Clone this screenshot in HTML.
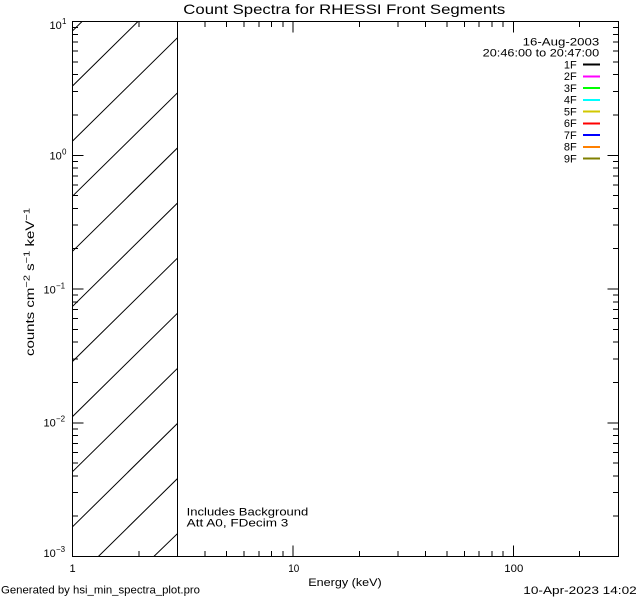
<!DOCTYPE html>
<html><head><meta charset="utf-8"><style>
html,body{margin:0;padding:0;background:#fff;width:640px;height:600px;overflow:hidden;}
svg{display:block;overflow:hidden;}
text{font-family:"Liberation Sans",sans-serif;fill:#000;}
</style></head><body>
<svg width="640" height="600" viewBox="0 0 640 600" xmlns="http://www.w3.org/2000/svg">
<rect x="0" y="0" width="640" height="600" fill="#fff"/>
<defs><clipPath id="hc"><rect x="72.5" y="21.5" width="105" height="535"/></clipPath></defs>
<!-- hatch -->
<g clip-path="url(#hc)" stroke="#000" stroke-width="1" fill="none">
<line x1="72.5" y1="30.9" x2="102" y2="1.9"/>
<line x1="72.5" y1="86.0" x2="155" y2="4.7"/>
<line x1="72.5" y1="141.1" x2="177.5" y2="37.7"/>
<line x1="72.5" y1="196.2" x2="177.5" y2="92.8"/>
<line x1="72.5" y1="251.3" x2="177.5" y2="147.9"/>
<line x1="72.5" y1="306.4" x2="177.5" y2="203.0"/>
<line x1="72.5" y1="361.5" x2="177.5" y2="258.1"/>
<line x1="72.5" y1="416.6" x2="177.5" y2="313.2"/>
<line x1="72.5" y1="471.7" x2="177.5" y2="368.3"/>
<line x1="72.5" y1="526.8" x2="177.5" y2="423.4"/>
<line x1="90" y1="564.7" x2="177.5" y2="478.5"/>
<line x1="145" y1="565" x2="177.5" y2="533.6"/>
</g>
<g stroke="#000" stroke-width="1" fill="none" shape-rendering="crispEdges">
<line x1="177.5" y1="21.5" x2="177.5" y2="556.5"/>
<rect x="72.5" y="21.5" width="546" height="535"/>
<!-- bottom ticks -->
<path d="M72.5 556.5V545.5 M292.9 556.5V545.5 M513.3 556.5V545.5
M138.85 556.5V551 M177.66 556.5V551 M205.19 556.5V551 M226.55 556.5V551 M244 556.5V551 M258.76 556.5V551 M271.54 556.5V551 M282.81 556.5V551
M359.25 556.5V551 M398.06 556.5V551 M425.59 556.5V551 M446.95 556.5V551 M464.4 556.5V551 M479.16 556.5V551 M491.94 556.5V551 M503.21 556.5V551
M579.65 556.5V551"/>
<!-- top ticks -->
<path d="M72.5 21.5V32.5 M292.9 21.5V32.5 M513.3 21.5V32.5
M138.85 21.5V27 M177.66 21.5V27 M205.19 21.5V27 M226.55 21.5V27 M244 21.5V27 M258.76 21.5V27 M271.54 21.5V27 M282.81 21.5V27
M359.25 21.5V27 M398.06 21.5V27 M425.59 21.5V27 M446.95 21.5V27 M464.4 21.5V27 M479.16 21.5V27 M491.94 21.5V27 M503.21 21.5V27
M579.65 21.5V27"/>
<!-- left ticks -->
<path d="M72.5 21.5H83.5 M72.5 155.25H83.5 M72.5 289H83.5 M72.5 422.75H83.5 M72.5 556.5H83.5
M72.5 114.99H78 M72.5 91.44H78 M72.5 74.72H78 M72.5 61.76H78 M72.5 51.17H78 M72.5 42.22H78 M72.5 34.46H78 M72.5 27.62H78
M72.5 248.74H78 M72.5 225.19H78 M72.5 208.47H78 M72.5 195.51H78 M72.5 184.92H78 M72.5 175.97H78 M72.5 168.21H78 M72.5 161.37H78
M72.5 382.49H78 M72.5 358.94H78 M72.5 342.22H78 M72.5 329.26H78 M72.5 318.67H78 M72.5 309.72H78 M72.5 301.96H78 M72.5 295.12H78
M72.5 516.24H78 M72.5 492.69H78 M72.5 475.97H78 M72.5 463.01H78 M72.5 452.42H78 M72.5 443.47H78 M72.5 435.71H78 M72.5 428.87H78"/>
<!-- right ticks -->
<path d="M618.5 21.5H607.5 M618.5 155.25H607.5 M618.5 289H607.5 M618.5 422.75H607.5 M618.5 556.5H607.5
M618.5 114.99H613 M618.5 91.44H613 M618.5 74.72H613 M618.5 61.76H613 M618.5 51.17H613 M618.5 42.22H613 M618.5 34.46H613 M618.5 27.62H613
M618.5 248.74H613 M618.5 225.19H613 M618.5 208.47H613 M618.5 195.51H613 M618.5 184.92H613 M618.5 175.97H613 M618.5 168.21H613 M618.5 161.37H613
M618.5 382.49H613 M618.5 358.94H613 M618.5 342.22H613 M618.5 329.26H613 M618.5 318.67H613 M618.5 309.72H613 M618.5 301.96H613 M618.5 295.12H613
M618.5 516.24H613 M618.5 492.69H613 M618.5 475.97H613 M618.5 463.01H613 M618.5 452.42H613 M618.5 443.47H613 M618.5 435.71H613 M618.5 428.87H613"/>
</g>
<!-- title -->
<text x="183.3" y="14" font-size="14" textLength="322" lengthAdjust="spacingAndGlyphs">Count Spectra for RHESSI Front Segments</text>
<!-- legend -->
<text x="522.7" y="45.5" font-size="11" textLength="76.5" lengthAdjust="spacingAndGlyphs">16-Aug-2003</text>
<text x="482.7" y="56.7" font-size="11" textLength="116.5" lengthAdjust="spacingAndGlyphs">20:46:00 to 20:47:00</text>
<g font-size="11" text-anchor="end">
<text x="576.7" y="68.3">1F</text>
<text x="576.7" y="80.1">2F</text>
<text x="576.7" y="91.8">3F</text>
<text x="576.7" y="103.6">4F</text>
<text x="576.7" y="115.3">5F</text>
<text x="576.7" y="127.1">6F</text>
<text x="576.7" y="138.8">7F</text>
<text x="576.7" y="150.6">8F</text>
<text x="576.7" y="162.3">9F</text>
</g>
<g shape-rendering="crispEdges">
<rect x="583" y="63.7" width="17" height="2" fill="#000000"/>
<rect x="583" y="75.5" width="17" height="2" fill="#ff00ff"/>
<rect x="583" y="87.2" width="17" height="2" fill="#00ff00"/>
<rect x="583" y="99" width="17" height="2" fill="#00ffff"/>
<rect x="583" y="110.7" width="17" height="2" fill="#d2c800"/>
<rect x="583" y="122.5" width="17" height="2" fill="#ff0000"/>
<rect x="583" y="134.2" width="17" height="2" fill="#0000ff"/>
<rect x="583" y="146" width="17" height="2" fill="#ff8000"/>
<rect x="583" y="157.7" width="17" height="2" fill="#808000"/>
</g>
<!-- annotations -->
<text x="186.7" y="515.7" font-size="11" textLength="121.6" lengthAdjust="spacingAndGlyphs">Includes Background</text>
<text x="186.7" y="526.7" font-size="11" textLength="101.6" lengthAdjust="spacingAndGlyphs">Att A0, FDecim 3</text>
<!-- x tick labels -->
<g font-size="11">
<text x="69.5" y="572">1</text>
<text x="288.3" y="572" textLength="11" lengthAdjust="spacingAndGlyphs">10</text>
<text x="504.3" y="572" textLength="19" lengthAdjust="spacingAndGlyphs">100</text>
</g>
<text x="308.3" y="586" font-size="11" textLength="73.4" lengthAdjust="spacingAndGlyphs">Energy (keV)</text>
<!-- y tick labels -->
<g font-size="11">
<text x="49.5" y="29">10</text><text x="62" y="24" font-size="8">1</text>
<text x="49.5" y="159.3">10</text><text x="62" y="154.5" font-size="8">0</text>
<text x="43.5" y="293.3">10</text><text x="56" y="288.5" font-size="8">−1</text>
<text x="43.5" y="426.5">10</text><text x="56" y="421.7" font-size="8">−2</text>
<text x="43.5" y="557">10</text><text x="56" y="552.2" font-size="8">−3</text>
</g>
<!-- y axis title -->
<g transform="translate(34,356) rotate(-90)">
<text x="0" y="0" font-size="11.5" textLength="148" lengthAdjust="spacingAndGlyphs">counts cm<tspan font-size="8.5" dy="-4.5">−2</tspan><tspan dy="4.5"> s</tspan><tspan font-size="8.5" dy="-4.5">−1</tspan><tspan dy="4.5"> keV</tspan><tspan font-size="8.5" dy="-4.5">−1</tspan></text>
</g>
<!-- footer -->
<text x="1" y="593.3" font-size="11" textLength="199" lengthAdjust="spacingAndGlyphs">Generated by hsi_min_spectra_plot.pro</text>
<text x="523.3" y="594" font-size="11" textLength="113.4" lengthAdjust="spacingAndGlyphs">10-Apr-2023 14:02</text>
</svg>
</body></html>
